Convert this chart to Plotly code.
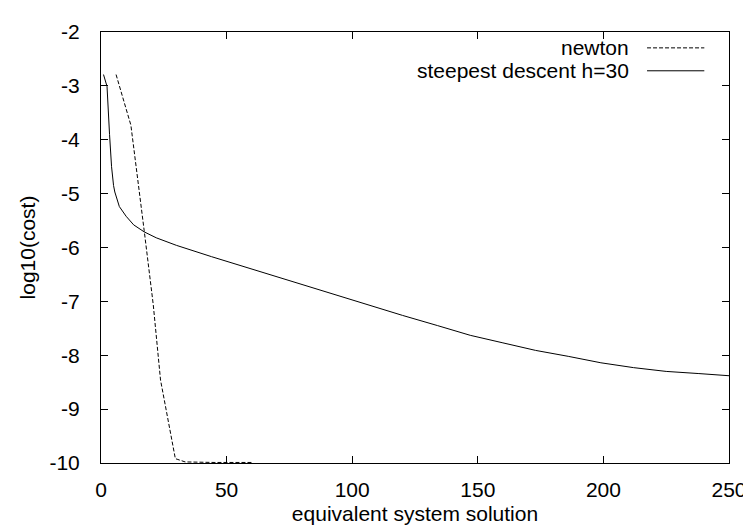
import plotly.graph_objects as go

# steepest descent h=30
sd_x = [1, 2.4, 3.4, 4.2, 5, 5.5, 7.3, 10, 13, 17.2, 22, 30, 44, 60, 80, 100, 120, 134, 147, 160, 173, 186, 199, 212, 225, 238, 250]
sd_y = [-2.79, -3.01, -3.9, -4.5, -4.85, -4.97, -5.24, -5.42, -5.58, -5.71, -5.82, -5.96, -6.17, -6.40, -6.69, -6.97, -7.26, -7.45, -7.63, -7.77, -7.91, -8.02, -8.14, -8.23, -8.30, -8.34, -8.38]

# newton
nw_x = [6.0, 11.9, 17.2, 20.8, 23.7, 29.6, 30.3, 33.5, 45, 60.4]
nw_y = [-2.79, -3.73, -5.69, -7.06, -8.46, -9.92, -9.93, -9.98, -9.99, -9.99]

legend_names = ["newton", "steepest descent h=30"]
x_ticks = [0, 50, 100, 150, 200, 250]
y_ticks = [-10, -9, -8, -7, -6, -5, -4, -3, -2]
y_tick_text = ["-10", "-9", "-8", "-7", "-6", "-5", "-4", "-3", "-2"]

FONT = "Liberation Sans, Arial, Helvetica, sans-serif"
FS = 21

fig = go.Figure()
fig.add_trace(go.Scatter(x=nw_x, y=nw_y, mode="lines", name=legend_names[0],
                         line=dict(color="black", width=1, dash="4px,2px"), showlegend=False))
fig.add_trace(go.Scatter(x=sd_x, y=sd_y, mode="lines", name=legend_names[1],
                         line=dict(color="black", width=1), showlegend=False))

# gnuplot-style legend: text on the left, sample on the right
leg_y = [0.9632, 0.9100]
dashes = ["4px,2px", "solid"]
for name, yy, d in zip(legend_names, leg_y, dashes):
    fig.add_annotation(x=0.8443, y=yy, xref="paper", yref="paper", text=name,
                       showarrow=False, xanchor="right", yanchor="middle",
                       font=dict(family=FONT, size=FS, color="black"))
    fig.add_shape(type="line", xref="paper", yref="paper", x0=0.8695, x1=0.9607,
                  y0=yy, y1=yy, line=dict(color="black", width=1, dash=d))

axis_common = dict(showline=True, linecolor="black", linewidth=1, mirror="ticks",
                   ticks="inside", ticklen=7, tickcolor="black", tickwidth=1,
                   showgrid=False, zeroline=False,
                   tickfont=dict(family=FONT, size=FS, color="black"))
fig.update_xaxes(range=[0, 250], tickvals=x_ticks, ticklabelstandoff=8,
                 title=dict(text="equivalent system solution", font=dict(family=FONT, size=FS, color="black"), standoff=6),
                 **axis_common)
fig.update_yaxes(range=[-10, -2], tickvals=y_ticks, ticktext=y_tick_text, ticklabelstandoff=16,
                 title=dict(text="log10(cost)", font=dict(family=FONT, size=FS, color="black"), standoff=8),
                 **axis_common)
fig.update_layout(width=751, height=526, margin=dict(l=93, r=22, t=15, b=63),
                  plot_bgcolor="white", paper_bgcolor="white", showlegend=False)
fig.write_html("out.html")
